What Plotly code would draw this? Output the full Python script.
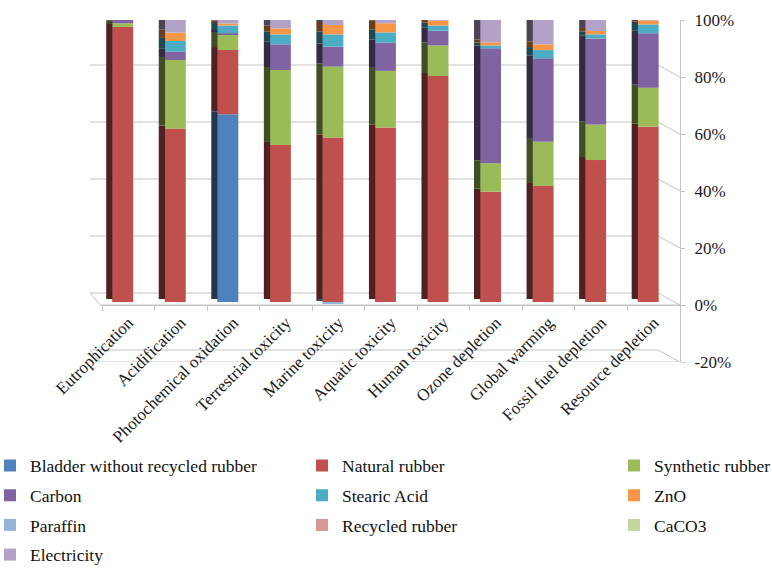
import plotly.graph_objects as go

# Impact categories along the x axis
categories = [
    "Eutrophication", "Acidification", "Photochemical oxidation",
    "Terrestrial toxicity", "Marine toxicity", "Aquatic toxicity",
    "Human toxicity", "Ozone depletion", "Global warming",
    "Fossil fuel depletion", "Resource depletion",
]

# Share of each contributor per impact category
bladder = [0, 0, 0.659, 0, 0, 0, 0, 0, 0, 0, 0]
natural_rubber = [0.965, 0.609, 0.225, 0.551, 0.577, 0.612, 0.793, 0.387, 0.407, 0.498, 0.615]
synthetic_rubber = [0.013, 0.240, 0.055, 0.263, 0.249, 0.199, 0.107, 0.100, 0.155, 0.125, 0.137]
carbon = [0.014, 0.029, 0.004, 0.090, 0.070, 0.099, 0.052, 0.403, 0.293, 0.302, 0.191]
stearic_acid = [0.002, 0.038, 0.027, 0.035, 0.043, 0.036, 0.018, 0.010, 0.029, 0.014, 0.031]
zno = [0.001, 0.029, 0.007, 0.021, 0.033, 0.032, 0.017, 0.011, 0.020, 0.012, 0.014]
paraffin = [0, 0, 0, 0, -0.004, 0, 0, 0, 0, 0, 0]
recycled_rubber = [0, 0, 0, 0, 0, 0, 0, 0, 0, 0, 0]
caco3 = [0, 0, 0, 0, 0, 0, 0, 0, 0, 0, 0]
electricity = [0.005, 0.055, 0.023, 0.040, 0.028, 0.022, 0.013, 0.089, 0.096, 0.049, 0.012]

# Percentage axis ticks
pct_ticks = [-0.2, 0.0, 0.2, 0.4, 0.6, 0.8, 1.0]

series = [
    ("Bladder without recycled rubber", bladder, "#4F81BD", "legend"),
    ("Natural rubber", natural_rubber, "#C0504D", "legend2"),
    ("Synthetic rubber", synthetic_rubber, "#9BBB59", "legend3"),
    ("Carbon", carbon, "#8064A2", "legend"),
    ("Stearic Acid", stearic_acid, "#4BACC6", "legend2"),
    ("ZnO", zno, "#F79646", "legend3"),
    ("Paraffin", paraffin, "#95B3D7", "legend"),
    ("Recycled rubber", recycled_rubber, "#D99694", "legend2"),
    ("CaCO3", caco3, "#C3D69B", "legend3"),
    ("Electricity", electricity, "#B3A2C7", "legend"),
]


def shade(hex_color, k):
    h = hex_color.lstrip("#")
    r, g, b = (int(h[i:i + 2], 16) for i in (0, 2, 4))
    return "#%02x%02x%02x" % (int(r * k), int(g * k), int(b * k))


SERIF = "Liberation Serif, Times New Roman, serif"
PX = 1.2 / 342.0          # data units per pixel on the percentage axis
PLOT_W = 578.0
GRID = "#c4c4c4"

fig = go.Figure()
for name, vals, color, leg in series:
    # dark side face of the column, slightly behind and above
    fig.add_trace(go.Bar(
        x=categories, y=vals, name=name, legendgroup=name, showlegend=False,
        marker=dict(color=shade(color, 0.42), line=dict(width=0)),
        width=0.12, offset=-0.42, xaxis="x", yaxis="y3", hoverinfo="skip",
    ))
    # front face of the column
    fig.add_trace(go.Bar(
        x=categories, y=vals, name=name, legendgroup=name, legend=leg,
        marker=dict(color=color, line=dict(width=0)),
        width=0.40, offset=-0.306, xaxis="x", yaxis="y2",
    ))

# back-wall gridlines with their receding edges to the value axis
depth = 12 * PX
x_left, x_back = -12 / PLOT_W, 556 / PLOT_W
shapes = []
for v in pct_ticks:
    shapes.append(dict(type="line", xref="paper", yref="y", layer="below",
                       x0=x_left, x1=x_back, y0=v + depth, y1=v + depth,
                       line=dict(color=GRID, width=1)))
    shapes.append(dict(type="line", xref="paper", yref="y", layer="below",
                       x0=x_back, x1=1.0, y0=v + depth, y1=v,
                       line=dict(color=GRID, width=1)))
# floor edges at the bottom of the value range
for v in (pct_ticks[0], 0.0):
    shapes.append(dict(type="line", xref="paper", yref="y", layer="below",
                       x0=-2 / PLOT_W, x1=1.0, y0=v, y1=v,
                       line=dict(color=GRID, width=1)))
    shapes.append(dict(type="line", xref="paper", yref="y", layer="below",
                       x0=x_left, x1=-2 / PLOT_W, y0=v + depth, y1=v,
                       line=dict(color=GRID, width=1)))

yr = [pct_ticks[0], pct_ticks[-1]]
legend_common = dict(
    orientation="v", font=dict(family=SERIF, size=17.5, color="#111111"),
    bgcolor="rgba(0,0,0,0)", borderwidth=0, traceorder="grouped",
    tracegroupgap=4, yanchor="top", xanchor="left", y=-0.25,
)

fig.update_layout(
    width=772, height=568,
    margin=dict(l=102, r=92, t=20, b=206, autoexpand=False),
    paper_bgcolor="white", plot_bgcolor="white",
    font=dict(family=SERIF),
    barmode="relative",
    shapes=shapes,
    xaxis=dict(
        type="category", range=[-0.5, len(categories) - 0.5],
        anchor="free", position=(0 - yr[0]) / (yr[1] - yr[0]),
        showline=True, linecolor=GRID, linewidth=1,
        ticks="outside", tickson="boundaries", ticklen=5, tickcolor=GRID,
        tickangle=-45, tickfont=dict(family=SERIF, size=17, color="#1a1a1a"),
        showgrid=False, zeroline=False, fixedrange=True, automargin=False,
    ),
    yaxis=dict(
        side="right", range=yr, anchor="x",
        tickmode="array", tickvals=pct_ticks,
        ticktext=[f"{round(v * 100)}%" for v in pct_ticks],
        showline=True, linecolor=GRID, linewidth=1,
        ticks="outside", ticklen=4, tickcolor=GRID, ticklabelstandoff=6,
        tickfont=dict(family=SERIF, size=17, color="#1a1a1a"),
        showgrid=False, zeroline=False, automargin=False,
    ),
    yaxis2=dict(overlaying="y", range=[yr[0] - 3 * PX, yr[1] - 3 * PX], visible=False),
    yaxis3=dict(overlaying="y", range=[yr[0] - 6 * PX, yr[1] - 6 * PX], visible=False),
    legend=dict(legend_common, x=(-10 - 102) / PLOT_W),
    legend2=dict(legend_common, x=(302 - 102) / PLOT_W),
    legend3=dict(legend_common, x=(614 - 102) / PLOT_W),
    showlegend=True,
)

fig.write_html("out.html")
